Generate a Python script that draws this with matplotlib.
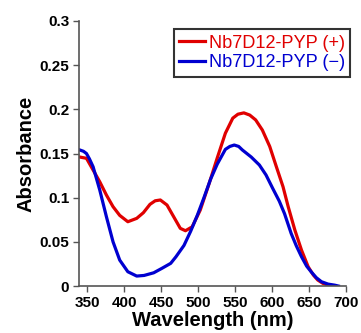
import numpy as np
import matplotlib.pyplot as plt

# Absorbance spectra
wl_plus = [340, 349, 358, 367, 376, 385, 394, 405, 417, 426, 435, 442, 449, 458, 467, 476,
           483, 492, 503, 515, 526, 537, 547, 554, 562, 570, 578, 587, 597, 606, 615, 622,
           631, 640, 649, 656, 662, 669, 676, 682]
abs_plus = [0.146, 0.1446, 0.1313, 0.118, 0.103, 0.0898, 0.080, 0.0728, 0.0766, 0.083, 0.0925,
            0.0965, 0.0974, 0.0917, 0.0785, 0.0653, 0.0626, 0.067, 0.086, 0.116, 0.145, 0.173,
            0.190, 0.1945, 0.196, 0.1935, 0.188, 0.1766, 0.158, 0.135, 0.1124, 0.0898, 0.0634,
            0.0407, 0.0219, 0.0125, 0.0068, 0.003, 0.0011, 0.0]

wl_minus = [340, 345, 349, 353, 358, 367, 376, 385, 394, 405, 417, 427, 440, 451, 463, 470,
            481, 490, 499, 508, 517, 526, 537, 543, 549, 555, 560, 572, 583, 592, 601, 610,
            617, 626, 633, 640, 647, 653, 660, 667, 676, 685, 690]
abs_minus = [0.154, 0.1525, 0.150, 0.144, 0.135, 0.1087, 0.0785, 0.050, 0.0294, 0.0162, 0.0113,
             0.012, 0.015, 0.020, 0.0257, 0.033, 0.046, 0.062, 0.080, 0.100, 0.121, 0.138,
             0.1547, 0.158, 0.1596, 0.158, 0.154, 0.146, 0.137, 0.1257, 0.1106, 0.096, 0.082,
             0.0596, 0.0455, 0.0332, 0.0225, 0.0162, 0.0095, 0.0049, 0.0022, 0.001, 0.0]

x_ticks = [350, 400, 450, 500, 550, 600, 650, 700]
y_ticks = [0, 0.05, 0.1, 0.15, 0.2, 0.25, 0.3]
y_labels = ['0', '0.05', '0.1', '0.15', '0.2', '0.25', '0.3']

plt.rcParams['font.family'] = ['Liberation Sans', 'DejaVu Sans']

fig = plt.figure(figsize=(3.61, 3.33), dpi=100)
ax = fig.add_axes([0.219, 0.141, 0.739, 0.796])

ax.plot(wl_plus, abs_plus, color='#e00000', linewidth=2.3, label='Nb7D12-PYP (+)',
        solid_joinstyle='round')
ax.plot(wl_minus, abs_minus, color='#0000d0', linewidth=2.3, label='Nb7D12-PYP (\u2212)',
        solid_joinstyle='round')

ax.set_xlim(339, 700)
ax.set_ylim(0, 0.3)
ax.set_xticks(x_ticks)
ax.set_yticks(y_ticks)
ax.set_yticklabels(y_labels)

for side in ['top', 'right']:
    ax.spines[side].set_visible(False)
for side in ['left', 'bottom']:
    ax.spines[side].set_color('#555555')
    ax.spines[side].set_linewidth(1.2)
ax.tick_params(direction='out', length=4, width=1.0, color='#555555',
               labelsize=11, pad=3)
for lab in ax.get_xticklabels() + ax.get_yticklabels():
    lab.set_fontweight('bold')

ax.set_xlabel('Wavelength (nm)', fontsize=14.5, fontweight='bold', labelpad=1)
ax.set_ylabel('Absorbance', fontsize=14.5, fontweight='bold', labelpad=3)

leg = ax.legend(loc='upper right', bbox_to_anchor=(0.97, 0.912),
                bbox_transform=fig.transFigure, fontsize=13.1, frameon=True,
                fancybox=False, handlelength=1.4, handletextpad=0.2,
                borderpad=0.3, labelspacing=0.15, borderaxespad=0)
leg.get_frame().set_edgecolor('black')
leg.get_frame().set_linewidth(1.5)
for txt, line in zip(leg.get_texts(), leg.get_lines()):
    txt.set_color(line.get_color())

fig.savefig('out.png', dpi=100)
